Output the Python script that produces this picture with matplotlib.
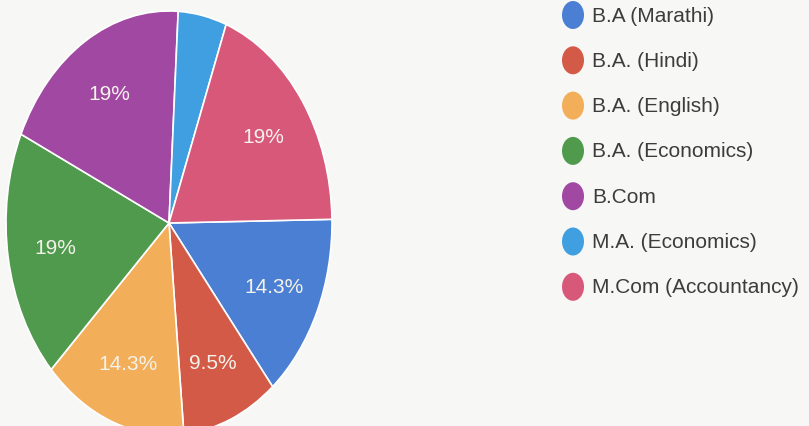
import matplotlib
matplotlib.use("Agg")
import matplotlib.pyplot as plt
from matplotlib.patches import Ellipse

categories = ["B.A (Marathi)", "B.A. (Hindi)", "B.A. (English)", "B.A. (Economics)",
              "B.Com", "M.A. (Economics)", "M.Com (Accountancy)"]
percentages = [14.3, 9.5, 14.3, 19.0, 19.0, 4.8, 19.0]
colors = ["#4a7fd3", "#d45a48", "#f2ae58", "#4f9a4c", "#a048a2", "#3f9fe0", "#d8587a"]

FONT = ["Liberation Sans", "DejaVu Sans"]
BG = "#f7f7f5"

W, H = 809, 427
fig = plt.figure(figsize=(W / 100, H / 100), dpi=100, facecolor=BG)

# pie geometry in pixels (scan is stretched vertically)
cx, cy, rx, ry = 169, 224, 163, 212
m = 1.05
ax = fig.add_axes([(cx - rx * m) / W, (H - (cy + ry * m)) / H, 2 * rx * m / W, 2 * ry * m / H])
ax.set_facecolor(BG)


def fmt(p):
    if p < 5:
        return ""
    s = f"{p:.1f}"
    if s.endswith(".0"):
        s = s[:-2]
    return s + "%"


wedges, texts, autotexts = ax.pie(
    percentages, colors=colors, startangle=1, counterclock=False,
    autopct=fmt, pctdistance=0.71,
    wedgeprops=dict(edgecolor="white", linewidth=1.2),
    textprops=dict(color="#f4f2ea", fontsize=15, family=FONT),
)
ax.set_aspect("auto")
ax.set_xlim(-m, m)
ax.set_ylim(-m, m)
ax.axis("off")

# legend drawn in pixel coordinates
lax = fig.add_axes([0, 0, 1, 1], facecolor="none")
lax.set_xlim(0, W)
lax.set_ylim(H, 0)
lax.axis("off")
for i, (lab, col) in enumerate(zip(categories, colors)):
    y = 16 + 45.3 * i
    lax.add_patch(Ellipse((573, y), 22, 28, color=col, lw=0))
    lax.text(592, y, lab, va="center", ha="left", fontsize=15, family=FONT, color="#3c3c3c")

fig.savefig("out.png", dpi=100, facecolor=BG)
